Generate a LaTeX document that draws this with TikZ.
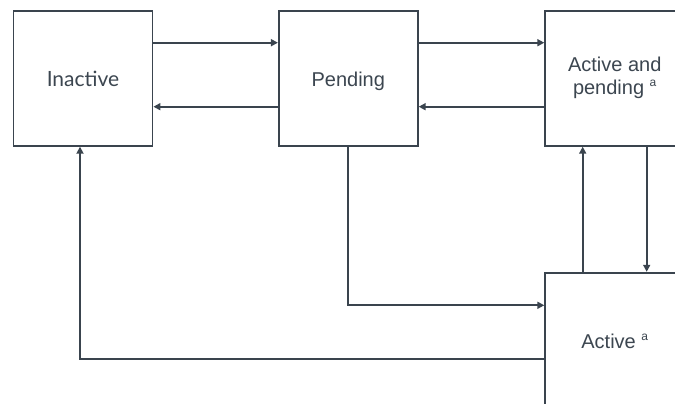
\documentclass[tikz,border=0pt]{standalone}
\usepackage{fontspec}
\setmainfont{Liberation Sans}
\newfontfamily\latofont{Lato}
\usetikzlibrary{arrows.meta}
\definecolor{ink}{HTML}{3A444E}
\definecolor{txt}{HTML}{3C4650}
\newcommand{\supa}{\raisebox{8pt}{\fontsize{12}{12}\selectfont a}}
\tikzset{
  state/.style={draw=ink, line width=1.8pt, fill=white, minimum width=139pt, minimum height=135pt,
    inner sep=0pt, outer sep=0.9pt, text=txt, align=center, font=\fontsize{20}{23}\selectfont},
  oneline/.style={text height=20pt, text depth=4pt},
  arr/.style={draw=ink, line width=1.7pt, -{Triangle[length=7pt,width=7pt]}},
}
\begin{document}
\begin{tikzpicture}[x=1pt,y=-1pt]
\useasboundingbox (0,0) rectangle (675,404);
\clip (0,0) rectangle (675,404);
\node[state, oneline, font=\latofont\fontsize{21}{24}\selectfont] (inactive) at (83,78.3) {Inactive};
\node[state, oneline] (pending) at (348.3,78.3) {Pending};
\node[state] (ap) at (614.7,78.3) {Active and\\pending \supa};
\node[state, oneline] (active) at (614.7,340.2) {Active \supa};
\coordinate (r1) at (0,42.7);
\coordinate (r2) at (0,106.7);
\coordinate (r3) at (0,305.3);
\coordinate (r4) at (0,359);
\coordinate (c1) at (582.7,0);
\coordinate (c2) at (646.7,0);
\coordinate (c3) at (80,0);
\coordinate (c4) at (347.7,0);
\draw[arr] (inactive.east |- r1) -- (pending.west |- r1);
\draw[arr] (pending.west |- r2) -- (inactive.east |- r2);
\draw[arr] (pending.east |- r1) -- (ap.west |- r1);
\draw[arr] (ap.west |- r2) -- (pending.east |- r2);
\draw[arr] (pending.south -| c4) |- (active.west |- r3);
\draw[arr] (active.north -| c1) -- (ap.south -| c1);
\draw[arr] (ap.south -| c2) -- (active.north -| c2);
\draw[arr] (active.west |- r4) -| (inactive.south -| c3);
\end{tikzpicture}
\end{document}
